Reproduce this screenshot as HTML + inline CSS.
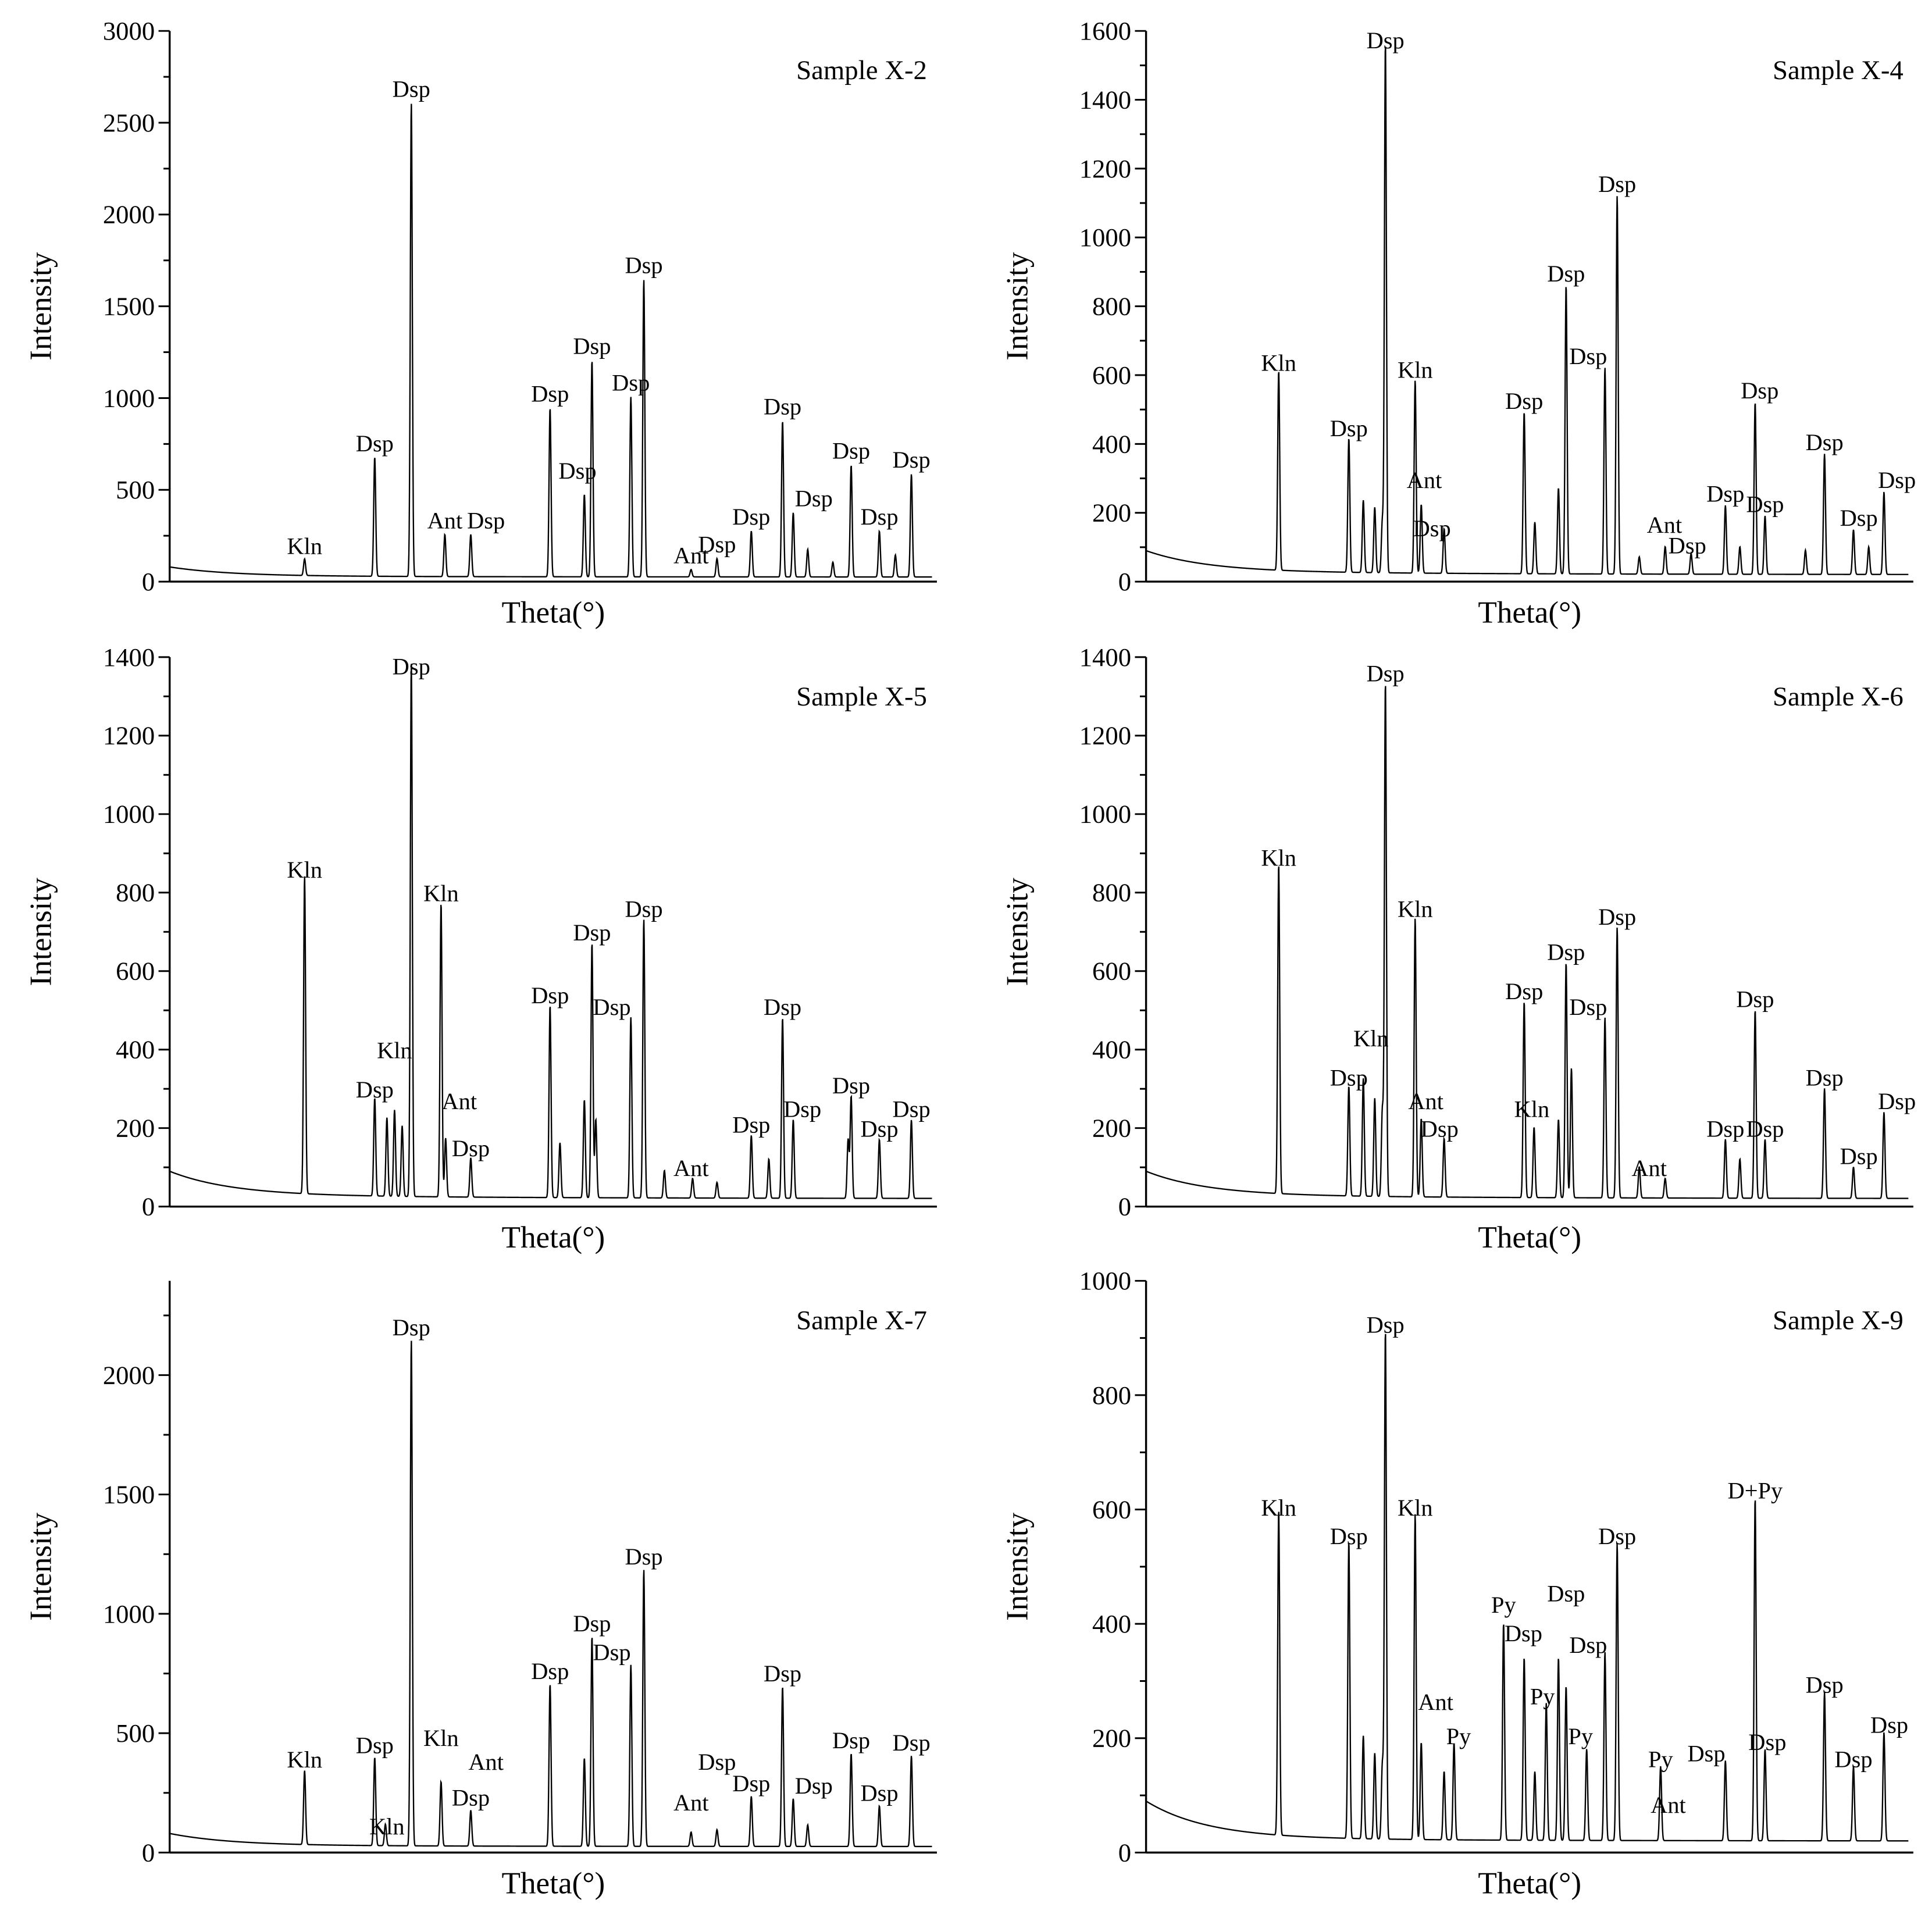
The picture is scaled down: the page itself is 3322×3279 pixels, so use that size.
<!DOCTYPE html>
<html><head><meta charset="utf-8"><style>
html,body{margin:0;padding:0;background:#fff}
svg{display:block}
text{font-family:"Liberation Serif",serif;fill:#000}
</style></head><body>
<svg id="chart" width="3322" height="3279" viewBox="0 0 1561 1541" xmlns="http://www.w3.org/2000/svg"></svg>
<script>
// ---- data: peak positions (0-100 along theta axis), peak heights ----
const p1Pos=[17.7,26.9,31.7,36.1,39.5,49.9,54.4,55.4,60.5,62.2,68.4,71.8,76.3,80.4,81.8,83.7,87,89.4,93.1,95.2,97.3];
const p1Hgt=[90,650,2580,230,230,920,450,1180,980,1620,40,100,250,850,350,150,80,610,250,120,560];
const p2Pos=[17.4,26.6,28.5,30,31,31.4,35.3,36.1,39.1,49.6,51,54.1,55.1,60.2,61.8,64.7,68.1,71.5,76,77.9,79.9,81.2,86.5,89,92.8,94.8,96.8];
const p2Hgt=[580,390,210,190,150,1540,560,200,130,470,150,250,840,600,1100,50,80,60,200,80,500,170,70,350,130,80,240];
const p3Pos=[17.7,26.9,28.5,29.5,30.5,31.7,35.6,36.2,39.5,49.9,51.2,54.4,55.4,55.9,60.5,62.2,64.9,68.6,71.8,76.3,78.6,80.4,81.8,89,89.4,93.1,97.3];
const p3Hgt=[810,250,200,220,180,1360,750,150,100,490,140,250,650,200,460,710,70,50,40,160,100,460,200,150,260,150,200];
const p4Pos=[17.4,26.6,28.5,30,31,31.4,35.3,36.1,39.1,49.6,50.9,54.1,55.1,55.8,60.2,61.8,64.7,68.1,76,77.9,79.9,81.2,89,92.8,96.8];
const p4Hgt=[840,280,300,250,220,1310,710,200,150,500,180,200,600,330,460,690,80,50,150,100,480,150,280,80,220];
const p5Pos=[17.7,26.9,28.3,31.7,35.6,39.5,49.9,54.4,55.4,60.5,62.2,68.4,71.8,76.3,80.4,81.8,83.7,89.4,93.1,97.3];
const p5Hgt=[310,370,90,2120,270,150,680,370,880,760,1160,60,70,210,670,200,90,390,170,380];
const p6Pos=[17.4,26.6,28.5,30,31,31.4,35.3,36.1,39.1,40.4,46.9,49.6,51,52.5,54.1,55.1,57.8,60.2,61.8,67.5,76,79.9,81.2,89,92.8,96.8];
const p6Hgt=[570,520,180,150,130,890,570,170,120,170,380,320,120,240,320,270,160,330,520,130,140,600,160,260,130,190];
// tick labels
const ticks1=[0,500,1000,1500,2000,2500,3000];
const ticks2=[0,200,400,600,800,1000,1200,1400,1600];
const ticks3=[0,200,400,600,800,1000,1200,1400];
const ticks5=[0,500,1000,1500,2000];
const ticks6=[0,200,400,600,800,1000];
const base1=[80,30,25];const base2=[90,30,20];const base3=[90,30,20];const base5=[80,30,25];const base6=[90,25,20];
// labels: [text, u, value]
const lab1=[["Kln",17.7,90],["Dsp",26.9,650],["Dsp",31.7,2580],["Ant",36.1,230],["Dsp",41.5,230],["Dsp",49.9,920],["Dsp",53.5,500],["Dsp",55.4,1180],["Dsp",60.5,980],["Dsp",62.2,1620],["Ant",68.4,40],["Dsp",71.8,100],["Dsp",76.3,250],["Dsp",80.4,850],["Dsp",84.5,350],["Dsp",89.4,610],["Dsp",93.1,250],["Dsp",97.3,560]];
const lab2=[["Kln",17.4,580],["Dsp",26.6,390],["Dsp",31.4,1540],["Kln",35.3,560],["Ant",36.5,240],["Dsp",37.5,100],["Dsp",49.6,470],["Dsp",55.1,840],["Dsp",58,600],["Dsp",61.8,1100],["Ant",68,110],["Dsp",71,50],["Dsp",76,200],["Dsp",80.5,500],["Dsp",81.2,170],["Dsp",89,350],["Dsp",93.5,130],["Dsp",98.5,240]];
const lab3=[["Kln",17.7,810],["Dsp",26.9,250],["Kln",29.5,350],["Dsp",31.7,1360],["Kln",35.6,750],["Ant",38,220],["Dsp",39.5,100],["Dsp",49.9,490],["Dsp",55.4,650],["Dsp",58,460],["Dsp",62.2,710],["Ant",68.4,50],["Dsp",76.3,160],["Dsp",80.4,460],["Dsp",83,200],["Dsp",89.4,260],["Dsp",93.1,150],["Dsp",97.3,200]];
const lab4=[["Kln",17.4,840],["Dsp",26.6,280],["Kln",29.5,380],["Dsp",31.4,1310],["Kln",35.3,710],["Ant",36.7,220],["Dsp",38.5,150],["Dsp",49.6,500],["Kln",50.6,200],["Dsp",55.1,600],["Dsp",58,460],["Dsp",61.8,690],["Ant",66,50],["Dsp",76,150],["Dsp",81.2,150],["Dsp",79.9,480],["Dsp",89,280],["Dsp",93.5,80],["Dsp",98.5,220]];
const lab5=[["Kln",17.7,310],["Dsp",26.9,370],["Kln",28.5,30],["Kln",35.6,400],["Ant",41.5,300],["Dsp",39.5,150],["Dsp",31.7,2120],["Dsp",49.9,680],["Dsp",55.4,880],["Dsp",58,760],["Dsp",62.2,1160],["Ant",68.4,130],["Dsp",71.8,300],["Dsp",76.3,210],["Dsp",80.4,670],["Dsp",84.5,200],["Dsp",89.4,390],["Dsp",93.1,170],["Dsp",97.3,380]];
const lab6=[["Kln",17.4,570],["Dsp",26.6,520],["Dsp",31.4,890],["Kln",35.3,570],["Ant",38,230],["Py",41,170],["Py",46.9,400],["Dsp",49.5,350],["Py",52,240],["Dsp",55.1,420],["Py",57,170],["Dsp",58,330],["Dsp",61.8,520],["Py",67.5,130],["Ant",68.5,50],["Dsp",73.5,140],["D+Py",79.9,600],["Dsp",81.5,160],["Dsp",89,260],["Dsp",92.8,130],["Dsp",97.5,190]];

const NS='http://www.w3.org/2000/svg';
const svg=document.getElementById('chart');
function mk(tag,attrs,parent){const e=document.createElementNS(NS,tag);for(const k in attrs)e.setAttribute(k,attrs[k]);(parent||svg).appendChild(e);return e;}

function panel(id,ax,top,bot,ymax,ticks,minorStep,pos,hgt,base,labels,title){
  const g=mk('g',{});
  
  
  const W=620;
  const xs=u=>ax+u/100*(W-4);
  const ys=v=>bot-v/ymax*(bot-top);
  let d='';
  const N=2400;
  for(let i=0;i<=N;i++){
    const u=i/N*100;
    let v=base[2]+(base[0]-base[1])*Math.exp(-u/8)+(base[1]-base[2])*Math.exp(-u/40);
    for(let k=0;k<pos.length;k++){const t=(u-pos[k])/0.13;v+=hgt[k]*Math.exp(-0.5*t*t);}
    d+=(i?'L':'M')+xs(u).toFixed(2)+' '+ys(Math.min(v,ymax*1.05)).toFixed(2);
  }
  const tr=mk('path',{d:d,fill:'none',stroke:'#000','stroke-width':1.1},g);
  
  
  const ya=mk('line',{x1:ax,y1:top,x2:ax,y2:bot,stroke:'#000','stroke-width':1.6},g);
  
  
  const xa=mk('line',{x1:ax,y1:bot,x2:ax+W,y2:bot,stroke:'#000','stroke-width':1.6},g);
  
  
  for(let v=0;v<=ymax+0.01;v+=minorStep){
    const major=ticks.indexOf(v)>=0;
    const tk=mk('line',{x1:ax-(major?9:5),y1:ys(v),x2:ax,y2:ys(v),stroke:'#000','stroke-width':1.4},g);
    
    
  }
  ticks.forEach(v=>{
    const t=mk('text',{x:ax-12,y:ys(v)+7,'text-anchor':'end','font-size':21},g);
    
    
    t.textContent=v;
  });
  const yt=mk('text',{x:0,y:0,'text-anchor':'middle','font-size':25,transform:`translate(${ax-96},${(top+bot)/2}) rotate(-90)`},g);
  
  
  yt.textContent='Intensity';
  const xt=mk('text',{x:ax+310,y:bot+33,'text-anchor':'middle','font-size':25},g);
  
  
  xt.textContent='Theta(°)';
  const st=mk('text',{x:ax+612,y:top+39,'text-anchor':'end','font-size':22},g);
  
  
  st.textContent=title;
  labels.forEach(l=>{
    const t=mk('text',{x:xs(l[1]),y:Math.max(ys(l[2])-9,top+14),'text-anchor':'middle','font-size':19},g);
    
    
    t.textContent=l[0];
  });
}
panel('x2',137,25,470,3000,ticks1,250,p1Pos,p1Hgt,base1,lab1,'Sample X-2');
panel('x4',926,25,470,1600,ticks2,100,p2Pos,p2Hgt,base2,lab2,'Sample X-4');
panel('x5',137,531,975,1400,ticks3,100,p3Pos,p3Hgt,base3,lab3,'Sample X-5');
panel('x6',926,531,975,1400,ticks3,100,p4Pos,p4Hgt,base3,lab4,'Sample X-6');
panel('x7',137,1035,1497,2395,ticks5,250,p5Pos,p5Hgt,base5,lab5,'Sample X-7');
panel('x9',926,1035,1497,1000,ticks6,100,p6Pos,p6Hgt,base6,lab6,'Sample X-9');
</script>
</body></html>
